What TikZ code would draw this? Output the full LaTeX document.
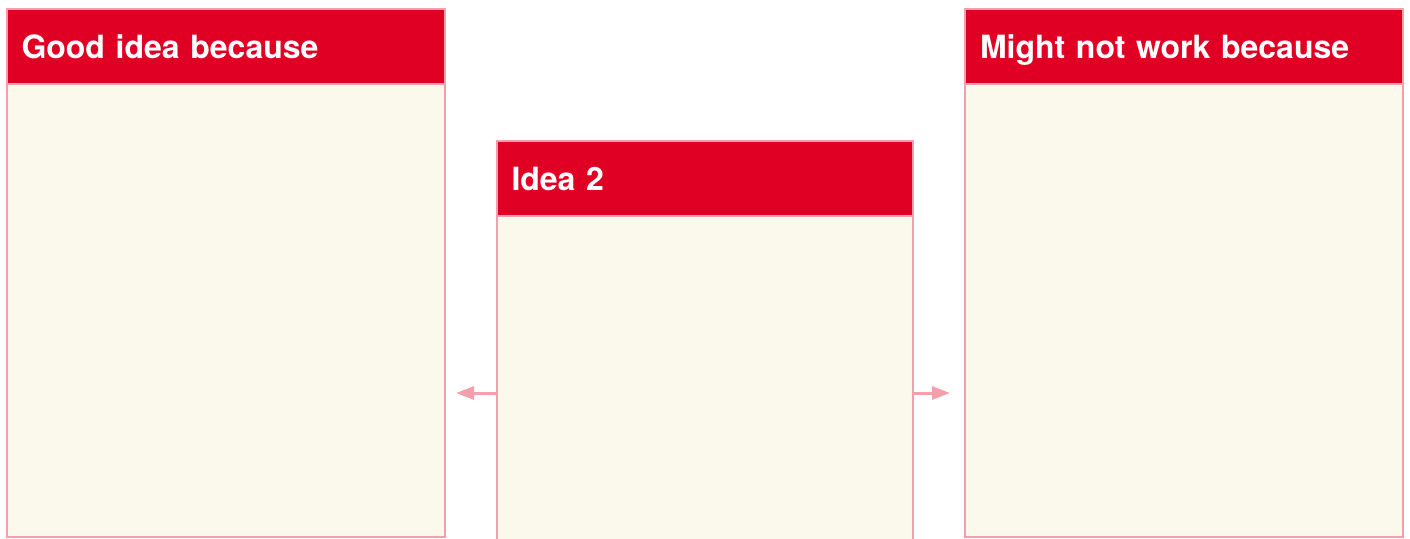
\documentclass[tikz,border=0pt]{standalone}
\usepackage{fontspec}
\setmainfont{TeX Gyre Heros}
\usetikzlibrary{positioning,arrows.meta}
\definecolor{ideared}{RGB}{224,0,36}
\definecolor{idearim}{RGB}{243,160,172}
\definecolor{ideapad}{RGB}{251,249,235}
\tikzset{
  hbox/.style={rectangle,fill=ideared,draw=idearim,line width=1pt,outer sep=0pt,anchor=north west,minimum height=37.5pt,inner xsep=7.5pt,inner ysep=0pt,text height=11.5pt,text depth=0pt,text=white,font=\fontsize{16}{19}\selectfont\bfseries,align=left},
  bbox/.style={rectangle,fill=ideapad,draw=idearim,line width=1pt,outer sep=0pt},
  pull/.style={idearim,line width=1.5pt,-{Triangle[length=9pt,width=6.5pt]}}
}
\begin{document}
\begin{tikzpicture}[x=0.5pt,y=-0.5pt]
  \useasboundingbox[fill=white] (0,0) rectangle (1410,538);
  \clip (0,0) rectangle (1410,538);
  % left column
  \node[hbox,minimum width=219pt,text width=204pt] (good) at (6.5,9) {Good idea because};
  \node[bbox,minimum width=219pt,minimum height=226.5pt,below=0pt of good] (goodb) {};
  % middle column, runs off the bottom
  \node[hbox,minimum width=208pt,text width=193pt] (idea) at (496.5,141) {Idea 2};
  \node[bbox,minimum width=208pt,minimum height=177pt,below=0pt of idea] (ideab) {};
  % right column
  \node[hbox,minimum width=219pt,text width=204pt] (risk) at (965,9) {Might not work because};
  \node[bbox,minimum width=219pt,minimum height=226.5pt,below=0pt of risk] (riskb) {};
  % arrows
  \coordinate (lt) at (456,393); \coordinate (rt) at (950,393);
  \draw[pull] (ideab.west |- lt) -- (lt);
  \draw[pull] (ideab.east |- rt) -- (rt);
\end{tikzpicture}
\end{document}
